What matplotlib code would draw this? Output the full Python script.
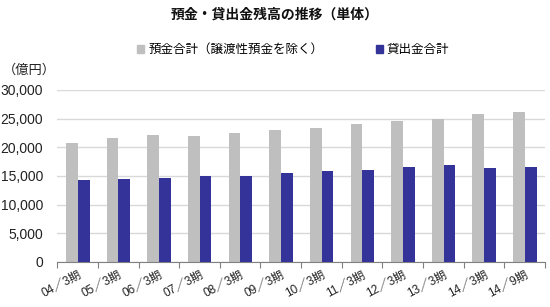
import matplotlib
matplotlib.use('Agg')
import matplotlib.pyplot as plt
import numpy as np
from matplotlib.ticker import FuncFormatter, MultipleLocator
from matplotlib.patches import Patch

plt.rcParams['font.family'] = ['Liberation Sans', 'Noto Sans CJK JP', 'DejaVu Sans']

periods = ['04／3期', '05／3期', '06／3期', '07／3期', '08／3期', '09／3期',
           '10／3期', '11／3期', '12／3期', '13／3期', '14／3期', '14／9期']
deposits = [20800, 21600, 22100, 21900, 22500, 23000,
            23400, 24100, 24500, 24900, 25800, 26200]
loans = [14300, 14500, 14600, 14900, 15000, 15500,
         15800, 16100, 16600, 16900, 16400, 16600]

gray = '#BFBFBF'
blue = '#333399'

fig = plt.figure(figsize=(5.5, 3.07), dpi=100)
ax = fig.add_axes([0.104, 0.147, 0.887, 0.560])

x = np.arange(len(periods))
w = 0.29
ax.bar(x - 0.14, deposits, w, color=gray, zorder=2)
ax.bar(x + 0.15, loans, w, color=blue, zorder=3)

ax.set_xlim(-0.5, len(periods) - 0.5)
ax.set_ylim(0, 30000)
ax.yaxis.set_major_locator(MultipleLocator(5000))
ax.yaxis.set_major_formatter(FuncFormatter(lambda v, p: f'{int(v):,}'))
ax.grid(axis='y', color='#D9D9D9', linewidth=1, zorder=0)
ax.set_axisbelow(True)

for s in ['top', 'right', 'left']:
    ax.spines[s].set_visible(False)
ax.spines['bottom'].set_color('#808080')

ax.tick_params(axis='y', length=0, pad=10, labelsize=10, labelcolor='#222222')
ax.set_xticks(np.arange(-0.5, len(periods)), minor=False)
ax.set_xticklabels([])
ax.tick_params(axis='x', which='major', length=4, color='#808080', direction='out')
ax.set_xticks(x, minor=True)
ax.set_xticklabels(periods, minor=True, rotation=28, ha='right',
                   rotation_mode='anchor', fontsize=8.5, color='#222222')
ax.tick_params(axis='x', which='minor', length=0, pad=5)

fig.text(0.5, 0.953, '預金・貸出金残高の推移（単体）', ha='center', va='center',
         fontsize=10, fontweight='bold', color='#111111')
fig.text(0.005, 0.772, '（億円）', ha='left', va='center', fontsize=9.5, color='#222222')

handles = [Patch(color=gray), Patch(color=blue)]
fig.legend(handles, ['預金合計（譲渡性預金を除く）', '貸出金合計'],
           loc='center', bbox_to_anchor=(0.533, 0.837), ncol=2, frameon=False,
           fontsize=9, handlelength=0.6, handleheight=0.6, handletextpad=0.3,
           columnspacing=4.2)

fig.savefig('out.png', dpi=100)
